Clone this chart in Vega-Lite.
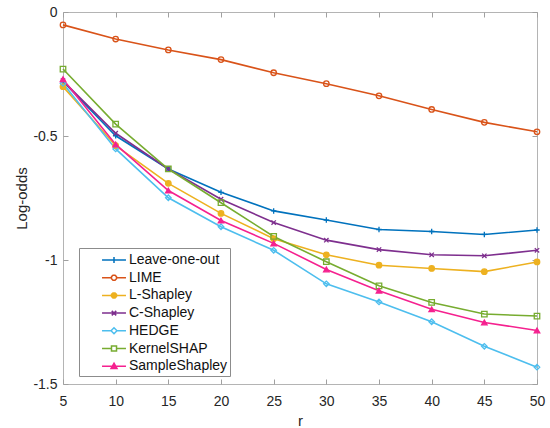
{
  "$schema": "https://vega.github.io/schema/vega-lite/v6.json",
  "width": 474,
  "height": 372,
  "autosize": "none",
  "padding": {"left": 63, "top": 12, "right": 13, "bottom": 44},
  "background": "white",
  "config": {
    "font": "Liberation Sans",
    "view": {"stroke": "#b4b4b4", "strokeWidth": 1},
    "axis": {
      "labelFont": "Liberation Sans",
      "titleFont": "Liberation Sans",
      "labelFontSize": 14,
      "titleFontSize": 15,
      "titleFontWeight": "normal",
      "labelColor": "#262626",
      "titleColor": "#262626",
      "domainColor": "#b4b4b4",
      "tickColor": "#a0a0a0",
      "grid": false
    }
  },
  "data": {
    "values": [
      {"r": 5, "method": "Leave-one-out", "v": -0.28},
      {"r": 10, "method": "Leave-one-out", "v": -0.499},
      {"r": 15, "method": "Leave-one-out", "v": -0.633},
      {"r": 20, "method": "Leave-one-out", "v": -0.727},
      {"r": 25, "method": "Leave-one-out", "v": -0.802},
      {"r": 30, "method": "Leave-one-out", "v": -0.839},
      {"r": 35, "method": "Leave-one-out", "v": -0.877},
      {"r": 40, "method": "Leave-one-out", "v": -0.885},
      {"r": 45, "method": "Leave-one-out", "v": -0.897},
      {"r": 50, "method": "Leave-one-out", "v": -0.879},
      {"r": 5, "method": "LIME", "v": -0.052},
      {"r": 10, "method": "LIME", "v": -0.109},
      {"r": 15, "method": "LIME", "v": -0.153},
      {"r": 20, "method": "LIME", "v": -0.192},
      {"r": 25, "method": "LIME", "v": -0.245},
      {"r": 30, "method": "LIME", "v": -0.289},
      {"r": 35, "method": "LIME", "v": -0.338},
      {"r": 40, "method": "LIME", "v": -0.393},
      {"r": 45, "method": "LIME", "v": -0.445},
      {"r": 50, "method": "LIME", "v": -0.483},
      {"r": 5, "method": "L-Shapley", "v": -0.301},
      {"r": 10, "method": "L-Shapley", "v": -0.539},
      {"r": 15, "method": "L-Shapley", "v": -0.691},
      {"r": 20, "method": "L-Shapley", "v": -0.812},
      {"r": 25, "method": "L-Shapley", "v": -0.914},
      {"r": 30, "method": "L-Shapley", "v": -0.979},
      {"r": 35, "method": "L-Shapley", "v": -1.021},
      {"r": 40, "method": "L-Shapley", "v": -1.034},
      {"r": 45, "method": "L-Shapley", "v": -1.047},
      {"r": 50, "method": "L-Shapley", "v": -1.008},
      {"r": 5, "method": "C-Shapley", "v": -0.277},
      {"r": 10, "method": "C-Shapley", "v": -0.489},
      {"r": 15, "method": "C-Shapley", "v": -0.633},
      {"r": 20, "method": "C-Shapley", "v": -0.755},
      {"r": 25, "method": "C-Shapley", "v": -0.849},
      {"r": 30, "method": "C-Shapley", "v": -0.92},
      {"r": 35, "method": "C-Shapley", "v": -0.958},
      {"r": 40, "method": "C-Shapley", "v": -0.979},
      {"r": 45, "method": "C-Shapley", "v": -0.983},
      {"r": 50, "method": "C-Shapley", "v": -0.961},
      {"r": 5, "method": "HEDGE", "v": -0.288},
      {"r": 10, "method": "HEDGE", "v": -0.552},
      {"r": 15, "method": "HEDGE", "v": -0.749},
      {"r": 20, "method": "HEDGE", "v": -0.866},
      {"r": 25, "method": "HEDGE", "v": -0.961},
      {"r": 30, "method": "HEDGE", "v": -1.096},
      {"r": 35, "method": "HEDGE", "v": -1.169},
      {"r": 40, "method": "HEDGE", "v": -1.249},
      {"r": 45, "method": "HEDGE", "v": -1.348},
      {"r": 50, "method": "HEDGE", "v": -1.432},
      {"r": 5, "method": "KernelSHAP", "v": -0.23},
      {"r": 10, "method": "KernelSHAP", "v": -0.452},
      {"r": 15, "method": "KernelSHAP", "v": -0.633},
      {"r": 20, "method": "KernelSHAP", "v": -0.769},
      {"r": 25, "method": "KernelSHAP", "v": -0.905},
      {"r": 30, "method": "KernelSHAP", "v": -1.007},
      {"r": 35, "method": "KernelSHAP", "v": -1.104},
      {"r": 40, "method": "KernelSHAP", "v": -1.171},
      {"r": 45, "method": "KernelSHAP", "v": -1.218},
      {"r": 50, "method": "KernelSHAP", "v": -1.226},
      {"r": 5, "method": "SampleShapley", "v": -0.271},
      {"r": 10, "method": "SampleShapley", "v": -0.534},
      {"r": 15, "method": "SampleShapley", "v": -0.72},
      {"r": 20, "method": "SampleShapley", "v": -0.841},
      {"r": 25, "method": "SampleShapley", "v": -0.933},
      {"r": 30, "method": "SampleShapley", "v": -1.038},
      {"r": 35, "method": "SampleShapley", "v": -1.124},
      {"r": 40, "method": "SampleShapley", "v": -1.199},
      {"r": 45, "method": "SampleShapley", "v": -1.252},
      {"r": 50, "method": "SampleShapley", "v": -1.284}
    ]
  },
  "layer": [
    {
      "mark": {"type": "line", "strokeWidth": 1.6},
      "encoding": {
        "x": {
          "field": "r", "type": "quantitative",
          "scale": {"domain": [5, 50], "nice": false, "zero": false},
          "axis": {"orient": "bottom", "title": "r", "values": [5,10,15,20,25,30,35,40,45,50],
                   "tickSize": -5, "labelPadding": 15, "titlePadding": 5, "domain": false, "labelFlush": false}
        },
        "y": {
          "field": "v", "type": "quantitative",
          "scale": {"domain": [-1.5, 0], "nice": false, "zero": false},
          "axis": {"orient": "left", "title": "Log-odds", "values": [0, -0.5, -1, -1.5],
                   "labelExpr": "datum.value == 0 ? '0' : '-' + toString(abs(datum.value))",
                   "tickSize": -5, "labelPadding": 11, "titlePadding": 3, "domain": false, "labelFlush": false}
        },
        "color": {
          "field": "method", "type": "nominal",
          "scale": {
            "domain": ["Leave-one-out", "LIME", "L-Shapley", "C-Shapley", "HEDGE", "KernelSHAP", "SampleShapley"],
            "range": ["#0072BD", "#D95319", "#EDB120", "#7E2F8E", "#4DBEEE", "#77AC30", "#F5218F"]
          },
          "legend": {
            "title": null,
            "orient": "none",
            "legendX": 16,
            "legendY": 236,
            "direction": "vertical",
            "padding": 2,
            "fillColor": "white",
            "strokeColor": "#8c8c8c",
            "labelFont": "Liberation Sans",
            "labelFontSize": 14,
            "labelColor": "#111111",
            "symbolSize": 324,
            "symbolOffset": 23,
            "labelOffset": 5,
            "rowPadding": 0.7,
            "symbolStrokeWidth": 1.5,
            "symbolType": "M-1.33,0H1.33",
            "encode": {
              "symbols": {
                "update": {
                  "shape": {"signal": "datum.value == 'Leave-one-out' ? 'M-1.33,0H1.33M0,-0.33V0.33' : datum.value == 'LIME' ? 'M-1.33,0H-0.28M0.28,0H1.33M0.277,0.115L0.115,0.277L-0.115,0.277L-0.277,0.115L-0.277,-0.115L-0.115,-0.277L0.115,-0.277L0.277,-0.115Z' : datum.value == 'L-Shapley' ? 'M-1.33,0H1.33M0.277,0.115L0.115,0.277L-0.115,0.277L-0.277,0.115L-0.277,-0.115L-0.115,-0.277L0.115,-0.277L0.277,-0.115Z' : datum.value == 'C-Shapley' ? 'M-1.33,0H1.33M-0.25,-0.25L0.25,0.25M-0.25,0.25L0.25,-0.25' : datum.value == 'HEDGE' ? 'M-1.33,0H-0.33M0.33,0H1.33M0,-0.33L0.33,0L0,0.33L-0.33,0Z' : datum.value == 'KernelSHAP' ? 'M-1.33,0H-0.28M0.28,0H1.33M-0.28,-0.28H0.28V0.28H-0.28Z' : 'M-1.33,0H1.33M0,-0.33L0.33,0.25H-0.33Z'"},
                  "fill": {"signal": "datum.value == 'L-Shapley' ? '#EDB120' : datum.value == 'SampleShapley' ? '#F5218F' : 'transparent'"},
                  "strokeWidth": {"value": 1.5}
                }
              }
            }
          }
        }
      }
    },
    {
      "mark": {"type": "point", "size": 30, "strokeWidth": 1.3, "opacity": 1},
      "encoding": {
        "x": {
          "field": "r", "type": "quantitative",
          "axis": {"orient": "top", "title": null, "labels": false, "values": [5,10,15,20,25,30,35,40,45,50],
                   "tickSize": -5, "domain": false}
        },
        "y": {
          "field": "v", "type": "quantitative",
          "axis": {"orient": "right", "title": null, "labels": false, "values": [0, -0.5, -1, -1.5],
                   "tickSize": -5, "domain": false}
        },
        "stroke": {
          "field": "method", "type": "nominal",
          "scale": {
            "domain": ["Leave-one-out", "LIME", "L-Shapley", "C-Shapley", "HEDGE", "KernelSHAP", "SampleShapley"],
            "range": ["#0072BD", "#D95319", "#EDB120", "#7E2F8E", "#4DBEEE", "#77AC30", "#F5218F"]
          },
          "legend": null
        },
        "fill": {
          "field": "method", "type": "nominal",
          "scale": {
            "domain": ["Leave-one-out", "LIME", "L-Shapley", "C-Shapley", "HEDGE", "KernelSHAP", "SampleShapley"],
            "range": ["transparent", "transparent", "#EDB120", "transparent", "transparent", "transparent", "#F5218F"]
          },
          "legend": null
        },
        "shape": {
          "field": "method", "type": "nominal",
          "scale": {
            "domain": ["Leave-one-out", "LIME", "L-Shapley", "C-Shapley", "HEDGE", "KernelSHAP", "SampleShapley"],
            "range": ["M-1,0H1M0,-1V1", "circle", "circle", "M-0.8,-0.8L0.8,0.8M-0.8,0.8L0.8,-0.8", "diamond", "square", "triangle-up"]
          },
          "legend": null
        }
      }
    }
  ],
  "resolve": {
    "axis": {"x": "independent", "y": "independent"},
    "legend": {"color": "independent", "stroke": "independent", "fill": "independent", "shape": "independent"}
  }
}
